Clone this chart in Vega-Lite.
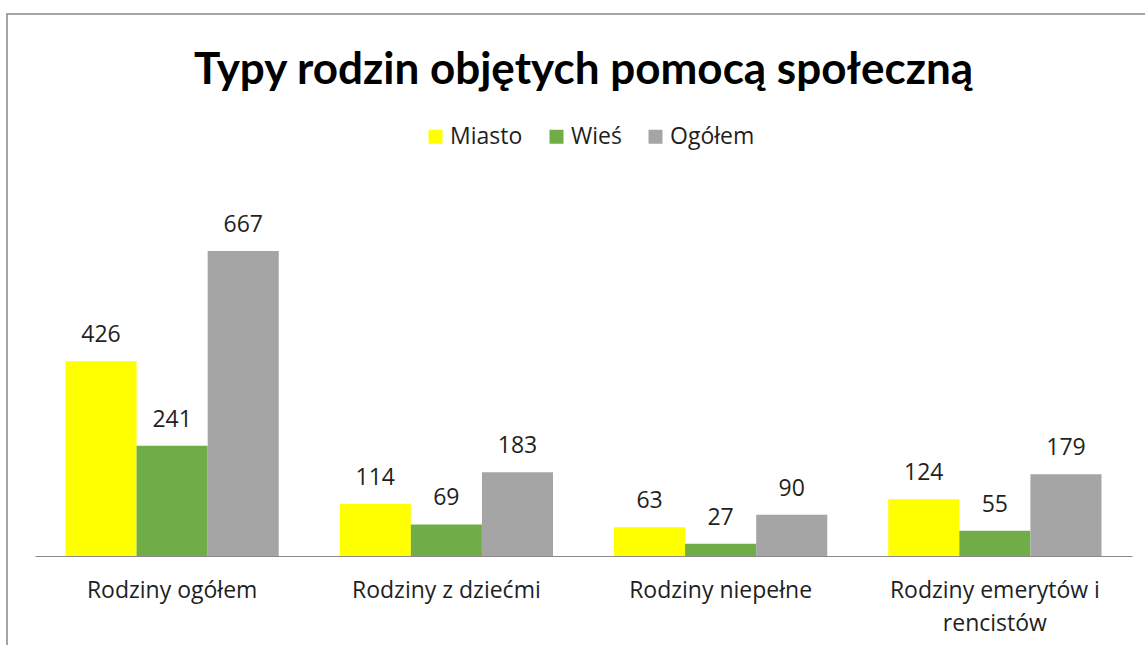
{
  "$schema": "https://vega.github.io/schema/vega-lite/v6.json",
  "autosize": "none",
  "width": 1153,
  "height": 646,
  "padding": {"left": 7, "top": 14, "right": -15, "bottom": -15},
  "background": "white",
  "title": {
    "text": "Typy rodzin objętych pomocą społeczną",
    "font": "Lato",
    "fontSize": 44,
    "fontWeight": "bold",
    "color": "#000000",
    "anchor": "middle",
    "frame": "group",
    "offset": -79
  },
  "data": {
    "values": [
      {"kategoria": "Rodziny ogółem", "seria": "Miasto", "wartosc": 426},
      {"kategoria": "Rodziny ogółem", "seria": "Wieś", "wartosc": 241},
      {"kategoria": "Rodziny ogółem", "seria": "Ogółem", "wartosc": 667},
      {"kategoria": "Rodziny z dziećmi", "seria": "Miasto", "wartosc": 114},
      {"kategoria": "Rodziny z dziećmi", "seria": "Wieś", "wartosc": 69},
      {"kategoria": "Rodziny z dziećmi", "seria": "Ogółem", "wartosc": 183},
      {"kategoria": "Rodziny niepełne", "seria": "Miasto", "wartosc": 63},
      {"kategoria": "Rodziny niepełne", "seria": "Wieś", "wartosc": 27},
      {"kategoria": "Rodziny niepełne", "seria": "Ogółem", "wartosc": 90},
      {"kategoria": "Rodziny emerytów i rencistów", "seria": "Miasto", "wartosc": 124},
      {"kategoria": "Rodziny emerytów i rencistów", "seria": "Wieś", "wartosc": 55},
      {"kategoria": "Rodziny emerytów i rencistów", "seria": "Ogółem", "wartosc": 179}
    ]
  },
  "encoding": {
    "x": {
      "field": "kategoria",
      "type": "nominal",
      "sort": null,
      "scale": {"paddingInner": 0.2224, "paddingOuter": 0.2133},
      "axis": {
        "title": null,
        "labelAngle": 0,
        "ticks": false,
        "offset": -104,
        "domainColor": "#898989",
        "domainWidth": 1,
        "domainDash": [0, 28, 1097, 300],
        "labelFont": "Open Sans",
        "labelFontSize": 23,
        "labelColor": "#1f1f1f",
        "labelPadding": 23,
        "labelLineHeight": 33,
        "labelBaseline": "top",
        "labelLimit": 0,
        "labelExpr": "datum.value == 'Rodziny emerytów i rencistów' ? ['Rodziny emerytów i', 'rencistów'] : datum.value"
      }
    },
    "xOffset": {
      "field": "seria",
      "type": "nominal",
      "sort": ["Miasto", "Wieś", "Ogółem"],
      "scale": {"paddingInner": 0, "paddingOuter": 0}
    },
    "y": {
      "field": "wartosc",
      "type": "quantitative",
      "scale": {"domain": [-227.4, 1185.2], "nice": false, "zero": false},
      "axis": null
    }
  },
  "layer": [
    {
      "mark": {"type": "bar"},
      "encoding": {
        "y2": {"datum": 0},
        "color": {
          "field": "seria",
          "type": "nominal",
          "sort": ["Miasto", "Wieś", "Ogółem"],
          "scale": {"domain": ["Miasto", "Wieś", "Ogółem"], "range": ["#FFFF00", "#70AD47", "#A5A5A5"]},
          "legend": {
            "title": null,
            "orient": "none",
            "direction": "horizontal",
            "legendX": 417,
            "legendY": 111,
            "symbolType": "square",
            "symbolSize": 196,
            "symbolStrokeWidth": 0,
            "symbolOpacity": 1,
            "labelFont": "Open Sans",
            "labelFontSize": 23,
            "labelColor": "#1f1f1f",
            "labelOffset": 3,
            "columnPadding": 22
          }
        }
      }
    },
    {
      "mark": {"type": "text", "baseline": "alphabetic", "dy": -19, "font": "Open Sans", "fontSize": 23, "color": "#1f1f1f"},
      "encoding": {
        "text": {"field": "wartosc", "type": "quantitative"}
      }
    }
  ],
  "config": {
    "view": {"stroke": "#868686", "strokeWidth": 1.5}
  }
}
